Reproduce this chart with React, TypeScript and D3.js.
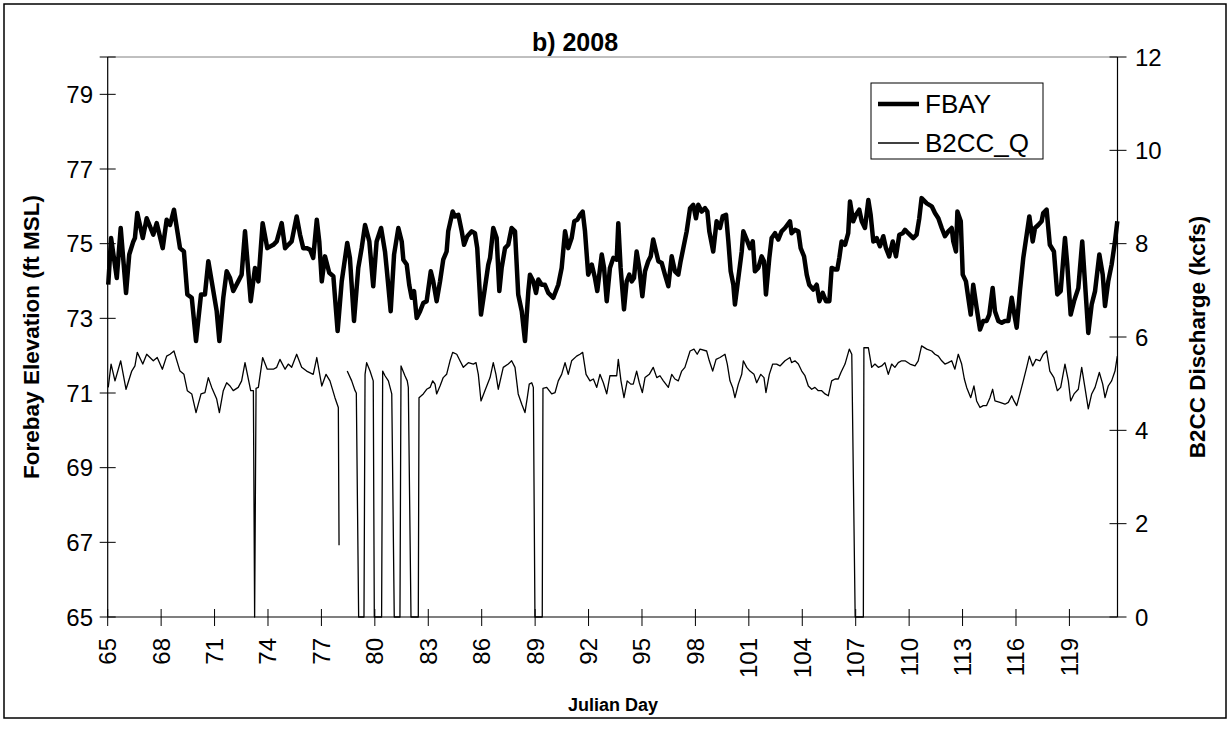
import React from "react";
import * as d3 from "d3";

// Hourly forebay elevation (ft MSL) by Julian day, 2008
const FBAY: [number, number][] = [
  [65.03,73.9],[65.19,75.15],[65.51,74.08],[65.73,75.42],[66.03,73.68],[66.21,74.71],[66.44,75.06],[66.53,75.15],[66.66,75.82],[66.97,75.15],
  [67.19,75.68],[67.56,75.24],[67.75,75.55],[68.09,74.88],[68.31,75.64],[68.5,75.5],[68.72,75.91],[69.06,74.88],[69.28,74.79],[69.47,73.64],
  [69.72,73.55],[69.96,72.39],[70.24,73.64],[70.46,73.64],[70.65,74.53],[70.84,73.99],[71.12,73.19],[71.27,72.39],[71.49,73.55],[71.68,74.26],
  [71.87,74.08],[72.05,73.73],[72.33,73.99],[72.52,74.17],[72.71,75.33],[73.03,73.46],[73.27,74.35],[73.46,73.99],[73.7,75.55],[73.96,74.88],
  [74.3,74.97],[74.49,75.06],[74.77,75.55],[74.96,74.88],[75.14,74.97],[75.33,75.06],[75.61,75.73],[75.8,75.24],[75.98,74.88],[76.17,74.88],
  [76.36,74.84],[76.54,74.62],[76.74,75.64],[76.88,75.06],[77.02,73.99],[77.2,74.66],[77.44,74.22],[77.67,74.13],[77.91,72.66],[78.14,73.99],
  [78.45,75.02],[78.6,74.62],[78.83,72.93],[79.07,74.35],[79.26,74.88],[79.45,75.5],[79.69,75.06],[79.91,73.86],[80.1,75.06],[80.35,75.42],
  [80.57,74.79],[80.67,74.31],[80.89,73.19],[81.08,74.71],[81.32,75.42],[81.51,75.06],[81.6,74.57],[81.79,74.44],[81.93,73.9],[82.07,73.55],
  [82.2,73.73],[82.35,73.01],[82.54,73.19],[82.72,73.41],[82.91,73.46],[83.14,74.26],[83.28,73.99],[83.47,73.46],[83.66,73.99],[83.84,74.57],
  [84.03,74.79],[84.12,75.33],[84.37,75.86],[84.5,75.73],[84.69,75.77],[84.88,75.33],[85.01,74.97],[85.19,75.2],[85.44,75.33],[85.62,75.28],
  [85.75,74.88],[85.96,73.1],[86.18,73.81],[86.37,74.44],[86.47,74.62],[86.65,75.42],[86.84,75.15],[86.99,73.73],[87.12,74.35],[87.31,74.88],
  [87.49,74.97],[87.68,75.42],[87.87,75.33],[88.05,73.64],[88.25,73.19],[88.43,72.39],[88.62,73.73],[88.71,74.17],[88.9,73.99],[89.05,73.68],
  [89.18,74.04],[89.37,73.9],[89.55,73.9],[89.74,73.68],[90.02,73.55],[90.3,73.9],[90.49,74.35],[90.68,75.33],[90.86,74.88],[91.05,75.15],
  [91.2,75.6],[91.37,75.64],[91.52,75.77],[91.67,75.86],[91.8,75.33],[91.98,74.17],[92.18,74.44],[92.36,74.08],[92.49,73.73],[92.74,74.71],
  [92.87,74.35],[93.02,73.46],[93.2,74.35],[93.39,74.62],[93.58,74.57],[93.67,75.55],[93.8,74.35],[93.99,73.24],[94.14,73.99],[94.29,74.17],
  [94.42,73.99],[94.55,74.08],[94.7,74.79],[94.85,74.35],[95.02,73.59],[95.17,74.26],[95.35,74.53],[95.49,74.66],[95.63,75.11],[95.79,74.79],
  [95.92,74.53],[96.11,74.48],[96.29,74.17],[96.48,73.86],[96.67,74.66],[96.85,74.26],[97.04,74.17],[97.17,74.53],[97.32,74.88],[97.51,75.33],
  [97.7,75.95],[97.88,76.04],[98.03,75.68],[98.16,76.04],[98.35,75.86],[98.54,75.95],[98.67,75.86],[98.78,75.33],[99.0,74.79],[99.19,75.6],
  [99.38,75.42],[99.53,75.73],[99.72,75.77],[99.85,75.06],[99.98,74.26],[100.13,73.9],[100.22,73.37],[100.41,74.08],[100.6,74.79],[100.69,75.33],
  [100.88,75.11],[101.06,74.88],[101.22,75.06],[101.34,74.26],[101.53,74.35],[101.72,74.66],[101.85,74.53],[101.96,73.64],[102.15,74.62],[102.28,75.15],
  [102.47,75.28],[102.65,75.11],[102.84,75.33],[103.03,75.42],[103.31,75.6],[103.4,75.28],[103.59,75.37],[103.78,75.33],[103.91,74.88],[104.1,74.66],
  [104.25,74.17],[104.39,73.9],[104.62,73.77],[104.81,73.9],[104.96,73.46],[105.15,73.68],[105.33,73.46],[105.52,73.46],[105.65,74.35],[105.84,74.31],
  [105.97,74.31],[106.08,74.62],[106.21,75.06],[106.4,74.97],[106.58,75.28],[106.68,76.13],[106.86,75.6],[107.01,75.77],[107.2,75.91],[107.34,75.6],
  [107.52,75.42],[107.71,76.17],[107.84,75.77],[107.99,75.06],[108.18,75.15],[108.36,74.93],[108.55,75.2],[108.7,74.88],[108.88,74.66],[109.08,75.06],
  [109.26,74.66],[109.45,75.24],[109.64,75.28],[109.77,75.37],[109.95,75.28],[110.23,75.15],[110.42,75.24],[110.57,75.68],[110.7,76.22],[110.99,76.08],
  [111.27,76.0],[111.45,75.82],[111.64,75.68],[111.83,75.42],[112.01,75.2],[112.2,75.33],[112.39,75.42],[112.48,75.06],[112.63,74.79],[112.71,75.86],
  [112.9,75.6],[113.01,74.17],[113.19,73.99],[113.32,73.55],[113.46,73.1],[113.6,73.9],[113.79,73.28],[113.98,72.7],[114.16,72.93],[114.35,72.93],
  [114.5,73.1],[114.69,73.81],[114.82,73.19],[115.01,72.93],[115.2,72.88],[115.38,72.93],[115.57,72.93],[115.76,73.55],[115.94,73.01],[116.04,72.75],
  [116.22,73.73],[116.41,74.62],[116.6,75.24],[116.75,75.73],[116.94,75.06],[117.07,75.42],[117.25,75.5],[117.44,75.6],[117.53,75.82],[117.72,75.91],
  [117.9,74.97],[118.13,74.79],[118.32,73.64],[118.51,73.73],[118.75,75.15],[118.88,74.44],[119.07,73.1],[119.26,73.46],[119.5,73.81],[119.72,75.06],
  [119.87,73.99],[120.06,72.61],[120.25,73.37],[120.44,73.73],[120.68,74.71],[120.87,74.17],[121.0,73.33],[121.18,73.99],[121.37,74.44],[121.56,75.06],
  [121.69,75.6],
];

// Hourly B2CC discharge (kcfs); null marks missing record
const B2CC_Q: [number, number | null][] = [
  [65.03,4.92],[65.19,5.42],[65.41,5.06],[65.73,5.49],[66.03,4.88],[66.35,5.27],[66.53,5.38],[66.66,5.67],[66.97,5.42],[67.19,5.63],
  [67.56,5.49],[67.78,5.56],[68.07,5.31],[68.31,5.59],[68.5,5.63],[68.72,5.7],[69.06,5.27],[69.28,5.2],[69.47,4.85],[69.72,4.78],
  [69.96,4.38],[70.24,4.78],[70.46,4.81],[70.65,5.13],[70.84,4.92],[71.12,4.67],[71.27,4.38],[71.49,4.85],[71.68,5.02],[71.87,4.95],
  [72.05,4.85],[72.33,4.92],[72.52,5.06],[72.71,5.45],[73.03,4.85],[73.18,4.85],[73.25,0],[73.33,4.9],[73.46,4.92],[73.7,5.56],
  [73.96,5.31],[74.3,5.31],[74.49,5.35],[74.67,5.52],[74.96,5.31],[75.14,5.42],[75.33,5.35],[75.61,5.63],[75.89,5.35],[76.17,5.27],
  [76.54,5.2],[76.74,5.56],[77.02,4.95],[77.26,5.2],[77.48,5.06],[77.76,4.7],[77.95,4.49],[77.99,1.54],[78.2,null],[78.45,5.27],
  [78.7,5.06],[78.89,4.85],[78.96,4.8],[79.09,0],[79.39,0],[79.45,5.2],[79.54,5.45],[79.73,5.27],[79.91,5.06],[79.97,0],
  [80.38,0],[80.44,5.27],[80.57,5.17],[80.76,5.06],[80.95,4.78],[81.09,0],[81.41,0],[81.47,5.38],[81.69,5.17],[81.82,5.06],
  [81.88,4.92],[82.03,0],[82.44,0],[82.48,4.7],[82.72,4.78],[82.91,4.88],[83.1,4.92],[83.25,5.06],[83.38,4.99],[83.47,4.78],
  [83.66,4.95],[83.84,5.13],[84.03,5.2],[84.22,5.49],[84.37,5.67],[84.6,5.63],[84.78,5.49],[84.97,5.35],[85.25,5.45],[85.53,5.42],
  [85.68,5.45],[85.81,5.2],[85.96,4.63],[86.18,4.85],[86.47,5.13],[86.65,5.45],[86.8,5.2],[86.93,4.88],[87.21,5.35],[87.49,5.42],
  [87.68,5.49],[87.87,5.35],[88.05,4.78],[88.25,4.56],[88.43,4.38],[88.56,4.7],[88.67,4.99],[88.81,5.02],[88.9,4.92],[88.99,0],
  [89.4,0],[89.44,4.9],[89.65,4.92],[89.93,4.78],[90.12,4.81],[90.3,5.06],[90.49,5.2],[90.68,5.45],[90.86,5.2],[91.05,5.49],
  [91.33,5.59],[91.52,5.63],[91.67,5.67],[91.86,5.2],[92.08,5.06],[92.27,5.1],[92.46,4.92],[92.64,5.2],[92.83,5.02],[93.02,4.78],
  [93.2,5.17],[93.39,5.17],[93.58,5.17],[93.67,5.52],[93.82,5.06],[93.99,4.7],[94.17,5.06],[94.37,4.99],[94.51,4.99],[94.7,5.27],
  [94.85,5.02],[95.02,4.81],[95.17,5.13],[95.41,5.2],[95.63,5.35],[95.83,5.13],[96.01,5.17],[96.2,5.06],[96.48,4.92],[96.67,5.2],
  [96.85,5.1],[97.04,5.06],[97.23,5.27],[97.41,5.35],[97.7,5.7],[97.92,5.74],[98.1,5.63],[98.26,5.74],[98.63,5.7],[98.78,5.49],
  [98.97,5.27],[99.16,5.52],[99.38,5.56],[99.66,5.63],[99.79,5.42],[99.94,5.06],[100.09,4.92],[100.22,4.7],[100.41,4.99],[100.6,5.2],
  [100.69,5.49],[100.88,5.35],[101.06,5.27],[101.29,5.2],[101.44,5.02],[101.67,5.2],[101.85,5.13],[101.96,4.81],[102.15,5.2],[102.34,5.42],
  [102.56,5.42],[102.75,5.38],[103.03,5.49],[103.31,5.56],[103.4,5.45],[103.59,5.49],[103.78,5.42],[103.97,5.27],[104.15,5.17],[104.34,4.95],
  [104.53,4.88],[104.71,4.92],[104.9,4.85],[105.09,4.85],[105.28,4.78],[105.46,4.74],[105.65,5.06],[105.84,5.1],[106.02,5.1],[106.17,5.24],
  [106.4,5.42],[106.64,5.74],[106.78,5.63],[106.97,0],[107.43,0],[107.46,5.77],[107.71,5.77],[107.9,5.35],[108.08,5.42],[108.27,5.35],
  [108.46,5.38],[108.64,5.45],[108.83,5.2],[109.02,5.42],[109.2,5.35],[109.39,5.45],[109.58,5.49],[109.77,5.49],[110.05,5.42],[110.33,5.38],
  [110.51,5.49],[110.7,5.81],[110.99,5.74],[111.27,5.7],[111.45,5.63],[111.64,5.59],[111.83,5.49],[112.01,5.42],[112.2,5.45],[112.39,5.49],
  [112.57,5.31],[112.76,5.63],[112.95,5.42],[113.1,5.1],[113.23,4.92],[113.46,4.7],[113.64,4.95],[113.79,4.63],[113.98,4.49],[114.16,4.53],
  [114.35,4.53],[114.54,4.7],[114.69,4.88],[114.82,4.63],[115.1,4.6],[115.38,4.56],[115.57,4.6],[115.76,4.74],[115.89,4.63],[116.04,4.53],
  [116.22,4.78],[116.41,5.06],[116.6,5.35],[116.75,5.59],[116.94,5.38],[117.12,5.52],[117.35,5.49],[117.53,5.63],[117.72,5.7],[117.9,5.27],
  [118.13,5.13],[118.32,4.85],[118.51,4.92],[118.75,5.42],[118.94,5.06],[119.07,4.63],[119.26,4.78],[119.5,4.88],[119.69,5.35],[119.87,4.92],
  [120.06,4.46],[120.25,4.78],[120.44,4.92],[120.68,5.24],[120.87,4.99],[121.0,4.7],[121.18,4.95],[121.37,5.06],[121.56,5.27],[121.69,5.59],
];

const DAY_TICKS = d3.range(65, 122, 3);
const ELEV_TICKS = d3.range(65, 80, 2);
const FLOW_TICKS = d3.range(0, 13, 2);
const DAY_DOMAIN: [number, number] = [65, 121.7];
const ELEV_DOMAIN: [number, number] = [65, 80];
const FLOW_DOMAIN: [number, number] = [0, 12];

const FONT = "Arial, 'Liberation Sans', Helvetica, sans-serif";

export default function App() {
  const W = 1231;
  const H = 734;
  const left = 107.7;
  const right = 1117.5;
  const top = 57;
  const bottom = 617;

  const x = d3.scaleLinear().domain(DAY_DOMAIN).range([left, right]);
  const yL = d3.scaleLinear().domain(ELEV_DOMAIN).range([bottom, top]);
  const yR = d3.scaleLinear().domain(FLOW_DOMAIN).range([bottom, top]);

  const fbayLine = d3
    .line<[number, number]>()
    .x((d) => x(d[0]))
    .y((d) => yL(d[1]));

  const flowLine = d3
    .line<[number, number | null]>()
    .defined((d) => d[1] !== null)
    .x((d) => x(d[0]))
    .y((d) => yR(d[1] as number));

  return (
    <svg
      width={W}
      height={H}
      style={{ position: "absolute", left: 0, top: 0, background: "#fff" }}
      fontFamily={FONT}
    >
      <rect x={4} y={4} width={1222} height={714} fill="#fff" stroke="#000" strokeWidth={1.5} />

      <text x={575} y={51} textAnchor="middle" fontSize={25} fontWeight="bold">
        b) 2008
      </text>

      {/* plot frame */}
      <line x1={left} x2={right} y1={top} y2={top} stroke="#808080" strokeWidth={1} />
      <line x1={left} x2={left} y1={top} y2={bottom} stroke="#000" strokeWidth={1.2} />
      <line x1={right} x2={right} y1={top} y2={bottom} stroke="#000" strokeWidth={1.2} />
      <line x1={left} x2={right} y1={bottom} y2={bottom} stroke="#000" strokeWidth={1.2} />

      {/* left axis */}
      {ELEV_TICKS.map((t) => (
        <g key={"l" + t}>
          <line x1={left - 8} x2={left + 8} y1={yL(t)} y2={yL(t)} stroke="#000" strokeWidth={1} />
          <text x={93} y={yL(t)} textAnchor="end" dominantBaseline="central" fontSize={24}>
            {t}
          </text>
        </g>
      ))}
      <line x1={left - 8} x2={left + 8} y1={yL(80)} y2={yL(80)} stroke="#000" strokeWidth={1} />

      {/* right axis */}
      {FLOW_TICKS.map((t) => (
        <g key={"r" + t}>
          <line x1={right - 8} x2={right + 9} y1={yR(t)} y2={yR(t)} stroke="#000" strokeWidth={1} />
          <text x={1135} y={yR(t)} textAnchor="start" dominantBaseline="central" fontSize={24}>
            {t}
          </text>
        </g>
      ))}

      {/* bottom axis */}
      {DAY_TICKS.map((t) => (
        <g key={"b" + t}>
          <line x1={x(t)} x2={x(t)} y1={bottom - 8} y2={bottom + 9} stroke="#000" strokeWidth={1} />
          <text
            transform={`translate(${x(t)},638) rotate(-90)`}
            textAnchor="end"
            dominantBaseline="central"
            fontSize={24}
          >
            {t}
          </text>
        </g>
      ))}

      <text
        transform="translate(31,337) rotate(-90)"
        textAnchor="middle"
        dominantBaseline="central"
        fontSize={22.5}
        fontWeight="bold"
      >
        Forebay Elevation (ft MSL)
      </text>
      <text
        transform="translate(1197,337) rotate(-90)"
        textAnchor="middle"
        dominantBaseline="central"
        fontSize={22.5}
        fontWeight="bold"
      >
        B2CC Discharge (kcfs)
      </text>
      <text x={613} y={711} textAnchor="middle" fontSize={18} fontWeight="bold">
        Julian Day
      </text>

      {/* series */}
      <path d={flowLine(B2CC_Q) || ""} fill="none" stroke="#000" strokeWidth={1.3} strokeLinejoin="round" />
      <path d={fbayLine(FBAY) || ""} fill="none" stroke="#000" strokeWidth={4.5} strokeLinejoin="round" />

      {/* legend */}
      <rect x={871} y={83} width={172} height={76} fill="#fff" stroke="#000" strokeWidth={1} />
      <line x1={878} x2={919} y1={104} y2={104} stroke="#000" strokeWidth={4.5} />
      <text x={925} y={113} fontSize={26}>FBAY</text>
      <line x1={878} x2={919} y1={143} y2={143} stroke="#000" strokeWidth={1.3} />
      <text x={925} y={152} fontSize={26}>B2CC_Q</text>
    </svg>
  );
}
